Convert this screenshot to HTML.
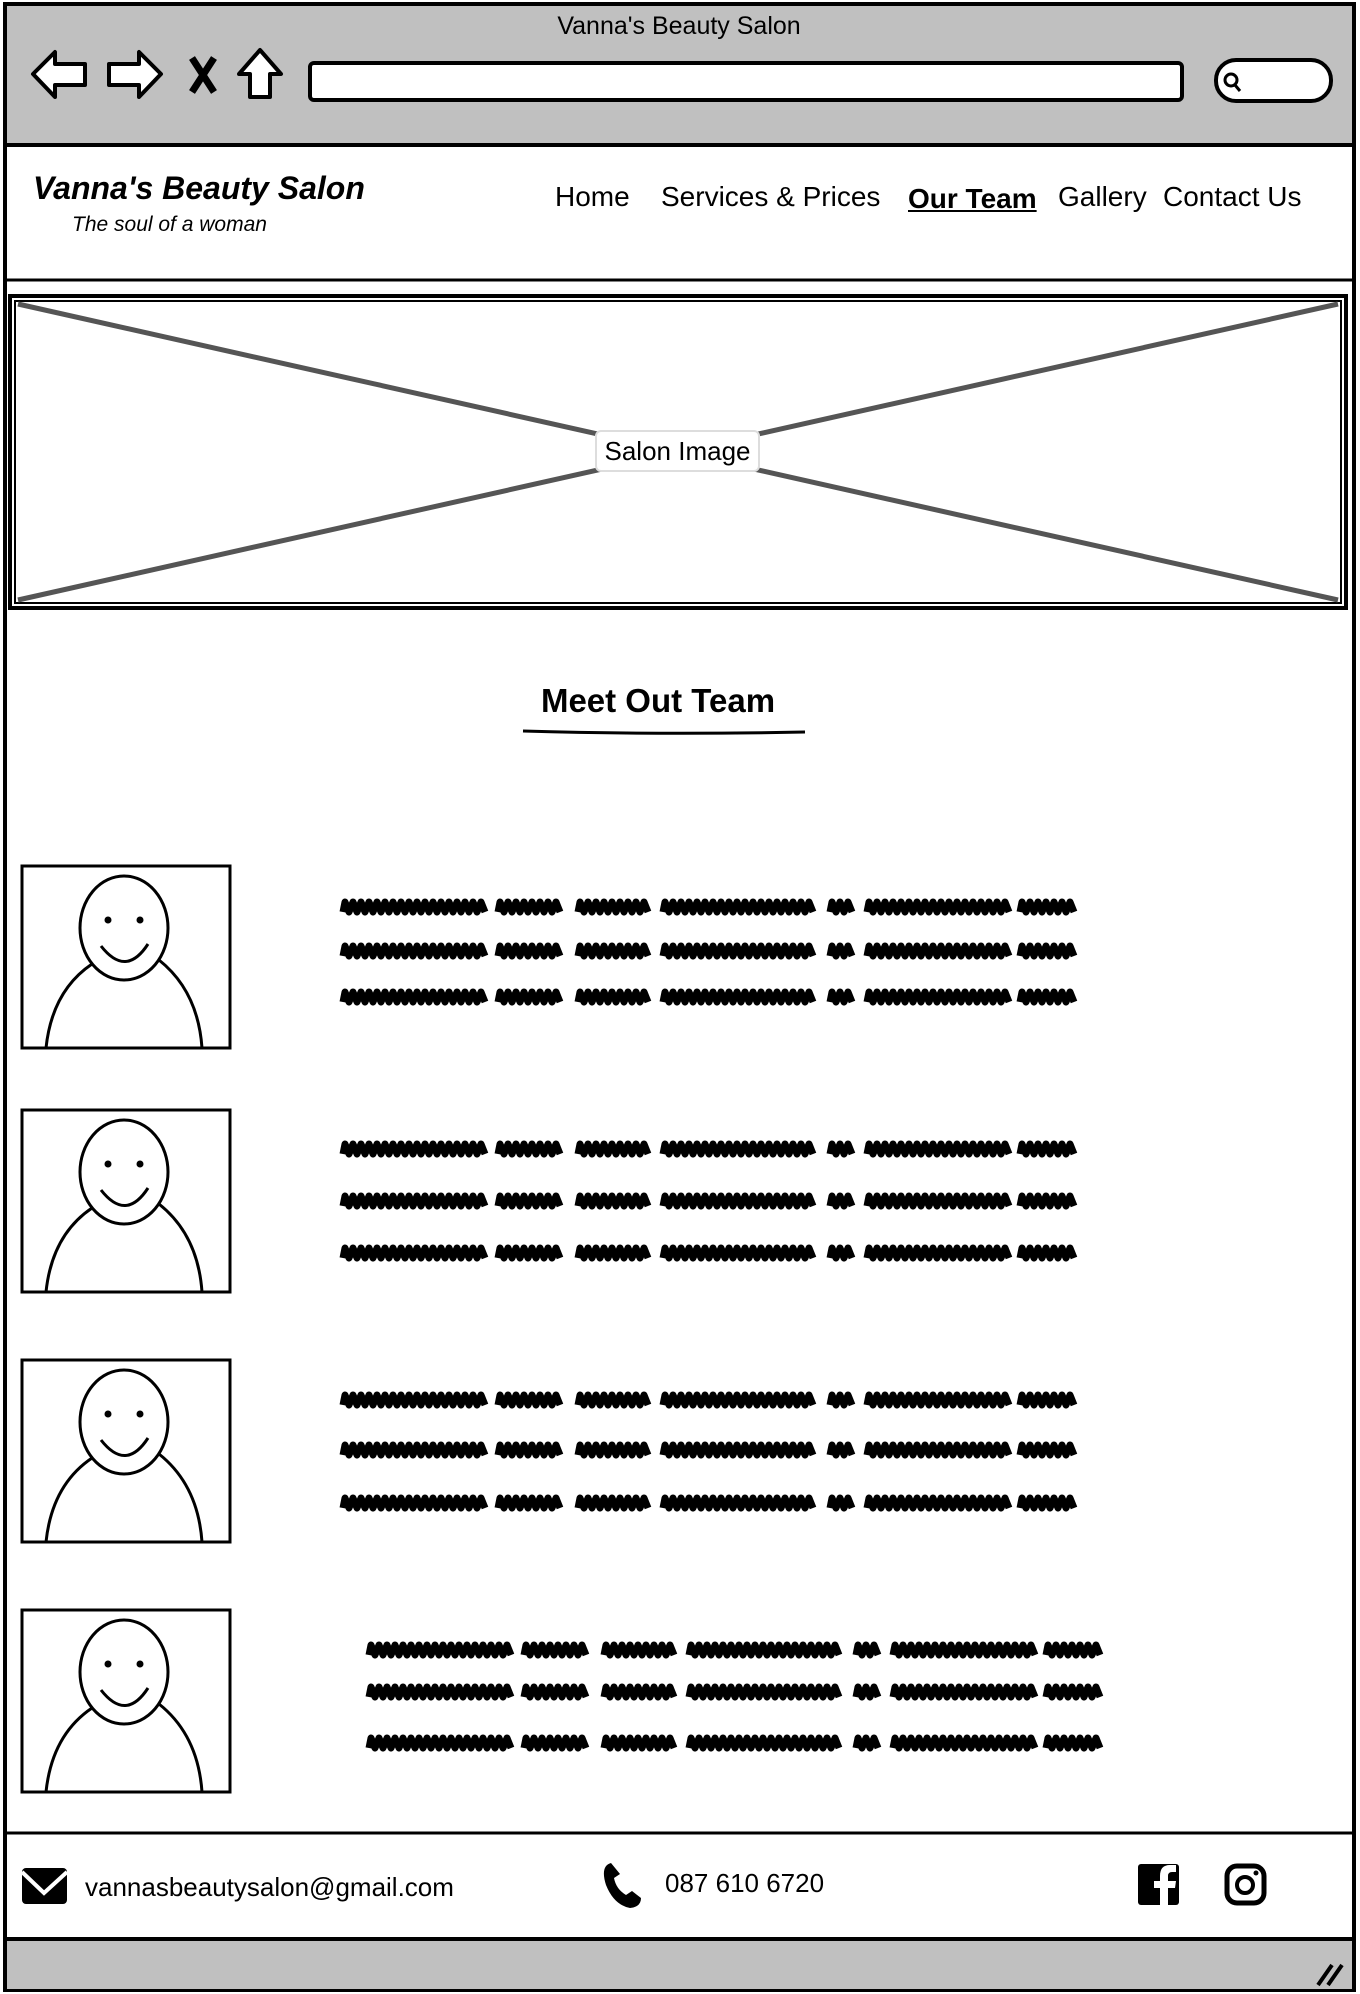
<!DOCTYPE html>
<html><head><meta charset="utf-8"><style>
html,body{margin:0;padding:0;background:#fff}
#page{position:relative;width:1360px;height:1994px;overflow:hidden;font-family:"Liberation Sans Narrow","Liberation Sans",sans-serif;color:#000}
.t{position:absolute;white-space:nowrap;line-height:1}
svg{position:absolute;left:0;top:0}
</style></head><body>
<div id="page">
<svg width="1360" height="1994">
 <rect x="5" y="4" width="1349" height="1986" fill="#fff" stroke="#000" stroke-width="4"/>
 <rect x="7" y="6" width="1345" height="138" fill="#c0c0c0"/>
 <line x1="5" y1="145" x2="1354" y2="145" stroke="#000" stroke-width="4"/>
 <rect x="7" y="1939" width="1345" height="50" fill="#c0c0c0"/>
 <line x1="5" y1="1939" x2="1354" y2="1939" stroke="#000" stroke-width="4"/>
 <path d="M1318 1985 L1332 1965 M1328 1985 L1342 1965" stroke="#000" stroke-width="4"/>
 <g fill="#fff" stroke="#000" stroke-width="4" stroke-linejoin="round">
  <path d="M33 74 L55 52 L55 64 L85 64 L85 85 L55 85 L55 97 Z"/>
  <path d="M161 74 L139 52 L139 64 L109 64 L109 85 L139 85 L139 97 Z"/>
  <path d="M260 50 L281 74 L270 74 L270 97 L250 97 L250 74 L239 74 Z"/>
  <rect x="310" y="63" width="872" height="37" rx="4"/>
  <rect x="1216" y="60" width="115" height="41" rx="20"/>
 </g>
 <path d="M192 58 L214 92 M214 58 L192 92" stroke="#000" stroke-width="7"/>
 <circle cx="1231" cy="80" r="6" fill="none" stroke="#000" stroke-width="3"/><line x1="1235" y1="85" x2="1240" y2="91" stroke="#000" stroke-width="3"/>
 <line x1="5" y1="280" x2="1354" y2="280" stroke="#000" stroke-width="3"/>
 <rect x="10" y="296" width="1336" height="312" fill="none" stroke="#000" stroke-width="4"/>
 <rect x="15" y="301" width="1326" height="302" fill="none" stroke="#000" stroke-width="2"/>
 <path d="M18 304 L1338 600 M18 600 L1338 304" stroke="#555" stroke-width="5"/>
 <rect x="596" y="431" width="163" height="40" rx="5" fill="#fff" stroke="#ddd" stroke-width="2"/>
 <path d="M523 731 Q660 735 805 732" stroke="#000" stroke-width="3" fill="none"/>
 <g id="photos"></g>
 <g id="scribbles"></g>
 <line x1="5" y1="1833" x2="1354" y2="1833" stroke="#000" stroke-width="3"/>
 <g><rect x="22" y="1868" width="45" height="36" rx="4" fill="#000"/><path d="M22 1872 L44 1893 L67 1872" stroke="#fff" stroke-width="4" fill="none"/></g>
 <path d="M611 1863 Q600 1866 606 1885 Q614 1905 630 1908 Q641 1907 641 1898 L632 1891 L626 1895 Q616 1889 614 1878 L620 1874 Z" fill="#000"/>
 <g><rect x="1138" y="1864" width="41" height="41" rx="3" fill="#000"/><path d="M1168 1905 L1168 1888 L1175 1888 L1176 1881 L1168 1881 L1168 1876 Q1168 1872 1172 1872 L1176 1872 L1176 1865 L1170 1865 Q1160 1865 1160 1876 L1160 1881 L1154 1881 L1154 1888 L1160 1888 L1160 1905 Z" fill="#fff"/></g>
 <g><rect x="1227" y="1866" width="37" height="37" rx="10" fill="none" stroke="#000" stroke-width="5"/><circle cx="1245" cy="1885" r="8" fill="none" stroke="#000" stroke-width="4"/><circle cx="1256" cy="1873" r="2.5" fill="#000"/></g>
</svg>
<div class="t" style="left:0;width:1358px;text-align:center;top:14px;font-size:25px">Vanna's Beauty Salon</div>
<div class="t" style="left:33px;top:172px;font-size:32px;font-weight:bold;font-style:italic">Vanna's Beauty Salon</div>
<div class="t" style="left:72px;top:214px;font-size:21px;font-style:italic">The soul of a woman</div>
<div class="t" style="left:555px;top:183px;font-size:28px">Home</div>
<div class="t" style="left:661px;top:183px;font-size:28px">Services &amp; Prices</div>
<div class="t" style="left:908px;top:185px;font-size:28px;font-weight:bold;text-decoration:underline">Our Team</div>
<div class="t" style="left:1058px;top:183px;font-size:28px">Gallery</div>
<div class="t" style="left:1163px;top:183px;font-size:28px">Contact Us</div>
<div class="t" style="left:596px;width:163px;text-align:center;top:438px;font-size:26px">Salon Image</div>
<div class="t" style="left:0;width:1316px;text-align:center;top:684px;font-size:33px;font-weight:bold">Meet Out Team</div>
<div class="t" style="left:85px;top:1874px;font-size:26px">vannasbeautysalon@gmail.com</div>
<div class="t" style="left:665px;top:1870px;font-size:26px">087 610 6720</div>
</div>
<script>
var NS='http://www.w3.org/2000/svg';
var photoTops=[866,1110,1360,1610];
var rowLines=[[907,951,997],[1149,1201,1253],[1400,1450,1503],[1650,1692,1743]];
var rowX=[343,343,343,369];
var words=[[0,144],[155,224],[235,309],[320,476],[487,513],[524,667],[677,736]];
var pg=document.getElementById('photos'),sg=document.getElementById('scribbles');
photoTops.forEach(function(y,i){
 var g=document.createElementNS(NS,'g');
 
 
 g.innerHTML='<rect x="22" y="'+y+'" width="208" height="182" fill="#fff" stroke="#000" stroke-width="3"/>'+
 '<ellipse cx="124" cy="'+(y+62)+'" rx="44" ry="52" fill="none" stroke="#000" stroke-width="3"/>'+
 '<circle cx="108" cy="'+(y+54)+'" r="3.5"/><circle cx="140" cy="'+(y+54)+'" r="3.5"/>'+
 '<path d="M101 '+(y+80)+' Q126 '+(y+112)+' 148 '+(y+78)+'" fill="none" stroke="#000" stroke-width="3"/>'+
 '<path d="M46 '+(y+182)+' Q52 '+(y+125)+' 92 '+(y+98)+' M159 '+(y+94)+' Q198 '+(y+125)+' 202 '+(y+182)+'" fill="none" stroke="#000" stroke-width="3"/>';
 pg.appendChild(g);
 rowLines[i].forEach(function(ly){
  var line=document.createElementNS(NS,'g');
  
  
  words.forEach(function(w){
   var d='M'+(rowX[i]+w[0])+' '+(ly+5);
   for(var x=rowX[i]+w[0]+6;x<=rowX[i]+w[1];x+=8){d+=' L'+(x-4)+' '+(ly-5)+' L'+x+' '+(ly+5);}
   var p=document.createElementNS(NS,'path');
   p.setAttribute('d',d);p.setAttribute('stroke','#000');p.setAttribute('stroke-width','7');
   p.setAttribute('fill','none');p.setAttribute('stroke-linejoin','round');
   line.appendChild(p);
  });
  sg.appendChild(line);
 });
});
</script>
</body></html>
